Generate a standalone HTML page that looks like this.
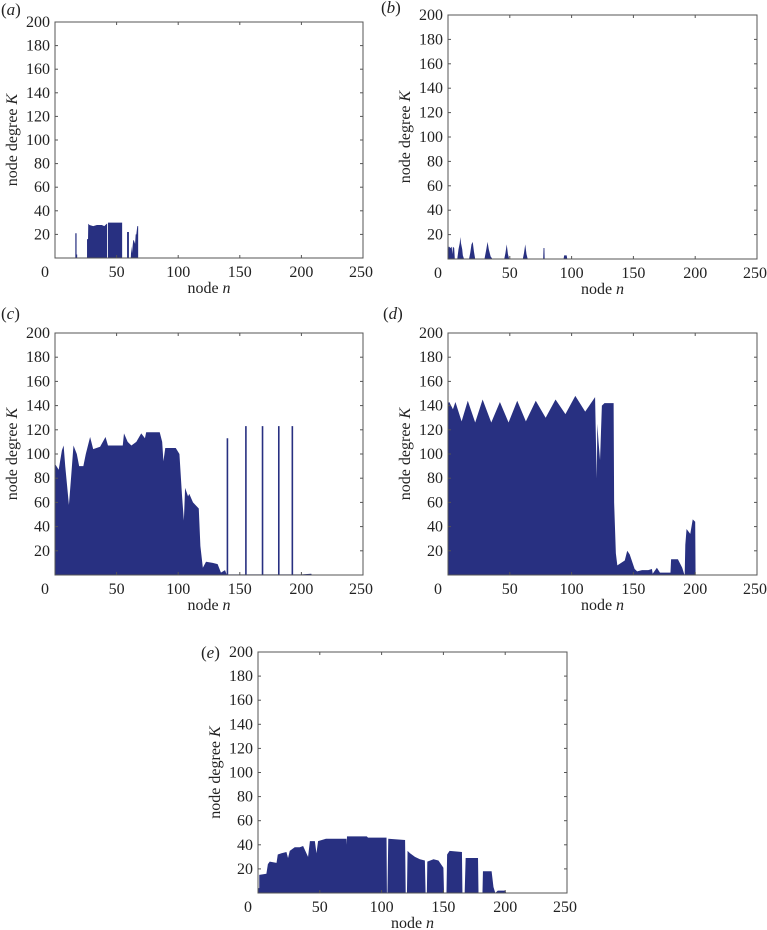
<!DOCTYPE html>
<html><head><meta charset="utf-8"><style>
html,body{margin:0;padding:0;background:#fff;width:767px;height:930px;overflow:hidden}
svg text{font-family:"Liberation Serif",serif;fill:#222}
</style></head><body>
<svg id="fig" width="767" height="930" viewBox="0 0 767 930" xmlns="http://www.w3.org/2000/svg"></svg>
<script>
// Shared axis data
const xTicks = [0, 50, 100, 150, 200, 250];
const yTicks = [20, 40, 60, 80, 100, 120, 140, 160, 180, 200];

// Panel (a) profile: node n, degree K
const aNodes = [0,16.5,16.5,17.5,17.5,18,18,26,26,26.8,27,28,31,34,38,40,42,42.3,42.3,43,43,54.5,54.5,58.5,58.5,60,60,61.5,62,62.5,63,63.5,64,65,65.5,66,66.8,67.5,67.5,250];
const aDegrees = [0,0,21,21,3,3,0,0,16,16,29,28,27,28,28,27,29,29,0,0,30,30,0,0,22,22,0,0,10,4,10,15,15,12,20,20,27,27,0,0];

// Panel (b)
const bNodes = [0,0.5,1,2,3,3.5,4,5,5.5,7.5,8.5,9.5,10,10.5,11.5,12,13,17,18,19,20,21,22,29.5,31,32,33,34.5,36,45.5,46.5,47.5,48.5,49.5,60.5,61.5,62.5,63.5,64.5,77,77.3,78,78.2,93.5,94,96,96.5,250];
const bDegrees = [0,10,10,9,10,4,10,9,0,0,8,13,18,13,8,3,0,0,5,12,14,6,0,0,8,14,8,2,0,0,5,12,4,0,0,5,12,4,0,0,9,9,0,0,3,3,0,0];

// Panel (c)
const cNodes = [0,0.5,3,5.6,7,8.3,11.3,13,15,17.7,19.6,23,25,28.5,31,36.6,41,43,55,56,59,62,66,70,73,74,85,87,88,89.5,98,101,103,104.6,105.6,108,109,112,116.7,118,120,122.6,128,132,134.7,138,139.3,139.3,140.6,140.6,154.3,154.3,155.6,155.6,167.8,167.8,169.1,169.1,181,181,182.3,182.3,192,192,193.3,193.3,200,208,208.5,250];
const cDegrees = [91,91,87,103,107,90,58,80,107,100,90,90,100,114,104,106,114,107,107,117,110,107,110,117,113,118,118,110,94,105,105,100,67,45,72,65,67,60,55,24,6,11,10,9,2,4,0.5,113,113,0.5,0.5,123,123,0.5,0.5,123,123,0.5,0.5,123,123,0.5,0.5,123,123,0.5,0.5,1,0,0];

// Panel (d)
const dNodes = [0,1,4,6,11,16,22,28,35,42,49,56,63,71,79,87,95,103,111,119,119.8,120.4,120.8,121.8,123,124.5,126.6,134,134.4,135.8,137,143,145,147,151,153,157,162,165,165.6,169,171.5,178,180,180.5,186,189.5,191,191.5,192,193,196,198,200,200.3,250];
const dDegrees = [142,143,137,143,127,144,126,145,126,143,126,144,127,144,130,145,133,148,135,147,105,80,125,110,95,140,142,142,60,18,8,12,20,17,5,3,4,4,5,1,6,2,2,2,13,13,6,1,0,25,38,34,46,44,0,0];

// Panel (e)
const eNodes = [0,1,1,6.8,8,9.5,15,16,19,23,24.3,25.7,29.7,33.8,36.5,40.5,42,46,47.3,48.6,55,71.6,71.8,72,88,89,104,104.3,104.7,105.4,119,119.5,120.5,121,123,127,131,135,135.6,136.6,137,142,146,150,150.5,152.5,153,155,165,165.4,167.2,168,178,178.4,181.6,182,189,190.5,192,194,200,201,250];
const eDegrees = [4,4,15,16,24,26,25,32,33,34,29,35,38,38,39,30,43,43,33,43,45,45,40,47,47,46,46,0,0,45,44,0,0,35,33,30,28,27,0,0,26,28,27,21,0,0,32,35,34,0,0,29,29,0,0,18,18,5,0,2,2,0,0];

const panels = [
  {id:'a', L:55, R:363, T:22, B:258, lx:1, ly:15, nodes:aNodes, deg:aDegrees},
  {id:'b', L:448, R:757, T:15, B:259, lx:381, ly:13, nodes:bNodes, deg:bDegrees},
  {id:'c', L:55, R:363, T:333, B:575, lx:1, ly:319, nodes:cNodes, deg:cDegrees},
  {id:'d', L:448, R:757, T:333, B:575, lx:383, ly:319, nodes:dNodes, deg:dDegrees},
  {id:'e', L:258, R:567, T:652, B:893, lx:201, ly:658, nodes:eNodes, deg:eDegrees}
];

const NS = 'http://www.w3.org/2000/svg';
const svg = document.getElementById('fig');
function mk(tag, attrs, parent){
  const el = document.createElementNS(NS, tag);
  for (const k in attrs) el.setAttribute(k, attrs[k]);
  (parent||svg).appendChild(el);
  return el;
}

panels.forEach(p => {
  const g = mk('g', {});
  
  
  const xs = n => p.L + (n / 250) * (p.R - p.L);
  const ys = k => p.B - (k / 200) * (p.B - p.T);

  let d = 'M' + xs(p.nodes[0]) + ',' + ys(0);
  for (let i = 0; i < p.nodes.length; i++) d += ' L' + xs(p.nodes[i]).toFixed(2) + ',' + ys(p.deg[i]).toFixed(2);
  d += ' L' + xs(p.nodes[p.nodes.length-1]) + ',' + ys(0) + ' Z';
  const area = mk('path', {d: d, fill: '#283081', stroke: 'none'}, g);
  
  

  const fr = mk('rect', {x: p.L, y: p.T, width: p.R - p.L, height: p.B - p.T, fill: 'none', stroke: '#555', 'stroke-width': 1}, g);
  
  

  xTicks.forEach(t => {
    const x = xs(t);
    if (t > 0 && t < 250) {
      mk('line', {x1: x, x2: x, y1: p.B, y2: p.B - 3, stroke: '#555'}, g);
      mk('line', {x1: x, x2: x, y1: p.T, y2: p.T + 3, stroke: '#555'}, g);
    }
    const tx = mk('text', {x: t === 0 ? x - 10 : (t === 250 ? x - 2 : x), y: p.B + 19, 'font-size': 16, 'text-anchor': 'middle'}, g);
    tx.textContent = t;
    
    
  });
  yTicks.forEach(t => {
    const y = ys(t);
    if (t < 200) {
      mk('line', {x1: p.L, x2: p.L + 3, y1: y, y2: y, stroke: '#555'}, g);
      mk('line', {x1: p.R, x2: p.R - 3, y1: y, y2: y, stroke: '#555'}, g);
    }
    const ty = mk('text', {x: p.L - 5, y: y + 5, 'font-size': 16, 'text-anchor': 'end'}, g);
    ty.textContent = t;
    
    
  });
  const xl = mk('text', {x: (p.L + p.R) / 2, y: p.B + 35, 'font-size': 16, 'text-anchor': 'middle'}, g);
  xl.innerHTML = 'node <tspan font-style="italic">n</tspan>';
  
  
  const cy = (p.T + p.B) / 2, cx = p.L - 38;
  const yl = mk('text', {x: cx, y: cy, 'font-size': 16, 'text-anchor': 'middle', transform: 'rotate(-90 ' + cx + ' ' + cy + ')'}, g);
  yl.innerHTML = 'node degree <tspan font-style="italic">K</tspan>';
  
  
  const pl = mk('text', {x: p.lx, y: p.ly, 'font-size': 17}, g);
  pl.innerHTML = '(<tspan font-style="italic">' + p.id + '</tspan>)';
  
  
});
</script>
</body></html>
